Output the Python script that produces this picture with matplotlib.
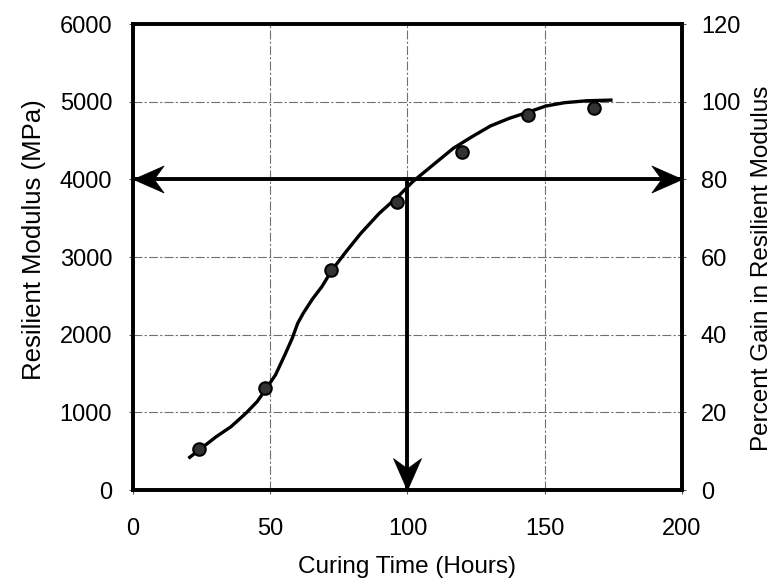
import matplotlib
matplotlib.use("Agg")
import matplotlib.pyplot as plt
from matplotlib.path import Path

plt.rcParams['font.family'] = ['Liberation Sans', 'DejaVu Sans']

# Measured data points
hours = [24, 48, 72, 96, 120, 144, 168]
modulus = [525, 1310, 2830, 3710, 4355, 4830, 4925]

# Fitted curve
curve_x = [20.2, 30.3, 35.7, 41.1, 45.2, 48.6, 51.9, 55.3, 58.0, 60.0, 62.0, 65.4, 68.8,
           72.5, 77.6, 83.0, 89.7, 97.1, 101.9, 110.0, 116.7, 123.5, 130.2, 137.0,
           144.4, 150.4, 157.2, 165.3, 174.7]
curve_y = [408, 686, 815, 987, 1137, 1309, 1481, 1738, 1953, 2146, 2275, 2460, 2618,
           2832, 3068, 3305, 3562, 3798, 3970, 4206, 4400, 4549, 4687, 4785,
           4871, 4944, 4987, 5012, 5021]

x_ticks = [0, 50, 100, 150, 200]
y_ticks = [0, 1000, 2000, 3000, 4000, 5000, 6000]
y2_ticks = [0, 20, 40, 60, 80, 100, 120]

target_mpa = 4000
target_hours = 100
x_min, x_max = 0, 200
y_min, y_max = 0, 6000

FS = 17

# stealth-style arrowhead shapes (marker shapes, tip at origin)
def stealth(direction):
    base = [(0, 0), (-0.44, 1), (0, 0.68), (0.44, 1), (0, 0)]
    if direction == 'down':
        v = base
    elif direction == 'right':
        v = [(-y, x) for x, y in base]
    else:  # left
        v = [(y, x) for x, y in base]
    codes = [Path.MOVETO, Path.LINETO, Path.LINETO, Path.LINETO, Path.CLOSEPOLY]
    return Path(v, codes)

fig = plt.figure(figsize=(7.79, 5.83), dpi=100)
ax = fig.add_axes([0.1707, 0.1595, 0.7048, 0.7993])

ax.set_xlim(x_min, x_max)
ax.set_ylim(y_min, y_max)
ax.set_xticks(x_ticks)
ax.set_yticks(y_ticks)
ax.grid(True, color='#707070', linestyle=(0, (8, 2, 2, 2)), linewidth=0.8)
ax.set_axisbelow(True)

ax.plot(curve_x, curve_y, color='black', linewidth=2.4, zorder=3,
        solid_joinstyle='round', solid_capstyle='butt')
ax.plot(hours, modulus, linestyle='none', marker='o', markersize=9,
        markerfacecolor='#333333', markeredgecolor='black', markeredgewidth=1.5, zorder=4)

# Arrows: horizontal double arrow at target, vertical arrow down to x-axis
ax.plot([x_min, x_max], [target_mpa, target_mpa], color='black', lw=2.8, zorder=5,
        clip_on=False, solid_capstyle='butt')
ax.plot([target_hours, target_hours], [target_mpa, y_min], color='black', lw=2.8, zorder=5,
        clip_on=False, solid_capstyle='butt')
ax.plot([x_max], [target_mpa], linestyle='none', marker=stealth('right'), markersize=44,
        color='black', markeredgewidth=0.5, zorder=6, clip_on=False)
ax.plot([x_min], [target_mpa], linestyle='none', marker=stealth('left'), markersize=44,
        color='black', markeredgewidth=0.5, zorder=6, clip_on=False)
ax.plot([target_hours], [y_min], linestyle='none', marker=stealth('down'), markersize=46,
        color='black', markeredgewidth=0.5, zorder=6, clip_on=False)

for s in ax.spines.values():
    s.set_linewidth(2.6)

ax.tick_params(direction='out', length=3, width=0.8, color='#555555', labelsize=FS)
ax.tick_params(axis='y', pad=12)
ax.tick_params(axis='x', pad=17)
ax.set_xlabel('Curing Time (Hours)', fontsize=17.5, labelpad=12)
ax.set_ylabel('Resilient Modulus (MPa)', fontsize=18.5)
ax.yaxis.set_label_coords(46 / 779, 1 - 240 / 583, transform=fig.transFigure)

ax2 = ax.twinx()
ax2.set_ylim(0, 120)
ax2.set_yticks(y2_ticks)
ax2.tick_params(direction='out', length=3, width=0.8, color='#555555', labelsize=FS, pad=10.5)
ax2.set_ylabel('Percent Gain in Resilient Modulus', fontsize=17.5)
ax2.yaxis.set_label_coords(751 / 779, 1 - 268 / 583, transform=fig.transFigure)
for s in ax2.spines.values():
    s.set_linewidth(2.6)

fig.savefig('out.png', dpi=100)
